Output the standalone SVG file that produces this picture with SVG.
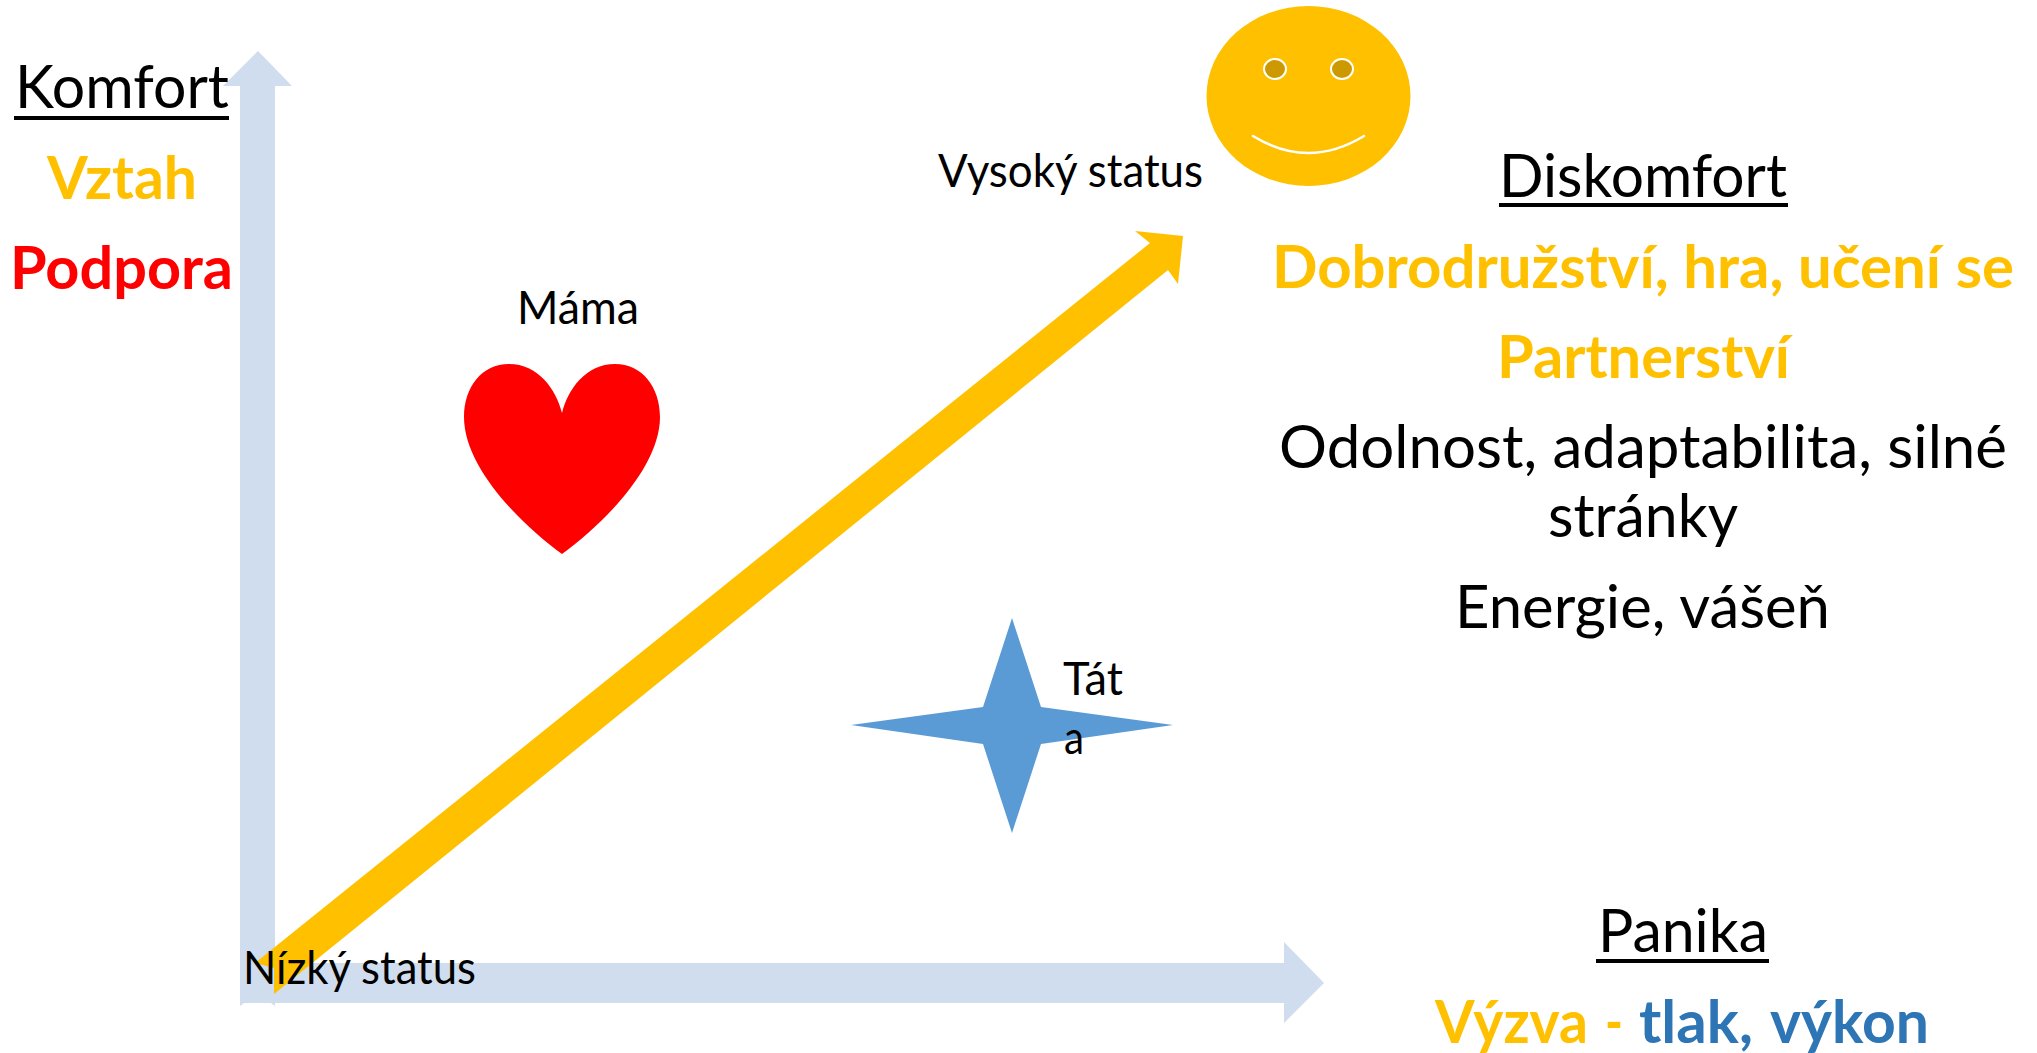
<svg xmlns="http://www.w3.org/2000/svg" width="2037" height="1053" viewBox="0 0 2037 1053">
<style>
text{font-family:"Lato","Carlito","Liberation Sans",sans-serif;fill:#000}
.h{font-size:60px}
.b{font-size:59px;font-weight:700}
.n{font-size:60px}
.s{font-size:46px}
.amber{fill:#FFC000}
.red{fill:#FF0000}
.blue{fill:#2E75B6}
.axis{fill:#CFDDEE}
.ul{fill:#000}
</style>
<rect width="2037" height="1053" fill="#fff"/>
<g id="connectors">
<polygon class="axis" points="258,51 292,86 275,86 275,1003 275,1006 271,1003 244,1003 240,1006 240,86 223,86"/>
<polygon class="axis" points="240,963 1284,963 1284,942 1324,983 1284,1023 1284,1003 240,1003"/>
<polygon class="amber" points="255,963 1150,243 1135,231 1183,236 1178,284 1168,270 274,994 274,968"/>
</g>
<g id="komfort">
<text class="h" x="15" y="108" textLength="214" lengthAdjust="spacingAndGlyphs">Komfort</text>
<rect class="ul" x="14" y="116" width="215" height="4"/>
</g>
<g id="vztah"><text class="b amber" x="47" y="199" textLength="150" lengthAdjust="spacingAndGlyphs">Vztah</text></g>
<g id="podpora"><text class="b red" x="10" y="289" textLength="223" lengthAdjust="spacingAndGlyphs">Podpora</text></g>
<g id="mama">
<text class="s" x="517" y="324" textLength="122" lengthAdjust="spacingAndGlyphs">Máma</text>
<path d="M562 413C556 389 538 364 509 364C482 364 464 387 464 417C464 468 522 525 562 554C602 525 660 468 660 417C660 387 642 364 615 364C586 364 568 389 562 413Z" fill="#FF0000"/>
</g>
<g id="smiley">
<ellipse cx="1308.500" cy="96" rx="102" ry="90" fill="#FFC000"/>
<ellipse cx="1275" cy="69" rx="11" ry="10" fill="#CC9A00" stroke="#fff" stroke-width="2"/>
<ellipse cx="1342" cy="69" rx="11" ry="10" fill="#CC9A00" stroke="#fff" stroke-width="2"/>
<path d="M1253 136Q1308 170 1364 136" fill="none" stroke="#fff" stroke-width="2.500" stroke-linecap="round"/>
</g>
<g id="vysoky-status"><text class="s" x="938" y="187" textLength="265" lengthAdjust="spacingAndGlyphs">Vysoký status</text></g>
<g id="tata">
<polygon points="1012,618 1041,707 1173,725 1041,744 1012,833 983,744 851,725 983,707" fill="#5B9BD5"/>
<text class="s" x="1063" y="695" textLength="60" lengthAdjust="spacingAndGlyphs">Tát</text>
<text class="s" x="1064" y="754" textLength="20" lengthAdjust="spacingAndGlyphs">a</text>
</g>
<g id="nizky-status"><text class="s" x="243" y="984" textLength="233" lengthAdjust="spacingAndGlyphs">Nízký status</text></g>
<g id="diskomfort">
<text class="h" x="1499" y="197" textLength="288" lengthAdjust="spacingAndGlyphs">Diskomfort</text>
<rect class="ul" x="1499" y="203" width="289" height="4"/>
</g>
<g id="dobrodruzstvi"><text class="b amber" x="1272" y="288" textLength="742" lengthAdjust="spacingAndGlyphs">Dobrodružství, hra, učení se</text></g>
<g id="partnerstvi"><text class="b amber" x="1497" y="378" textLength="293" lengthAdjust="spacingAndGlyphs">Partnerství</text></g>
<g id="odolnost">
<text class="n" x="1279" y="468" textLength="728" lengthAdjust="spacingAndGlyphs">Odolnost, adaptabilita, silné</text>
<text class="n" x="1548" y="537" textLength="190" lengthAdjust="spacingAndGlyphs">stránky</text>
</g>
<g id="energie"><text class="n" x="1455" y="628" textLength="375" lengthAdjust="spacingAndGlyphs">Energie, vášeň</text></g>
<g id="panika">
<text class="h" x="1598" y="952" textLength="170" lengthAdjust="spacingAndGlyphs">Panika</text>
<rect class="ul" x="1596" y="959" width="173" height="4"/>
</g>
<g id="vyzva">
<text class="b amber" x="1435" y="1043" textLength="153" lengthAdjust="spacingAndGlyphs">Výzva</text>
<text class="b amber" x="1605" y="1043" textLength="18" lengthAdjust="spacingAndGlyphs">-</text>
<text class="b blue" x="1639" y="1043" textLength="114" lengthAdjust="spacingAndGlyphs">tlak,</text>
<text class="b blue" x="1770" y="1043" textLength="159" lengthAdjust="spacingAndGlyphs">výkon</text>
</g>
</svg>
